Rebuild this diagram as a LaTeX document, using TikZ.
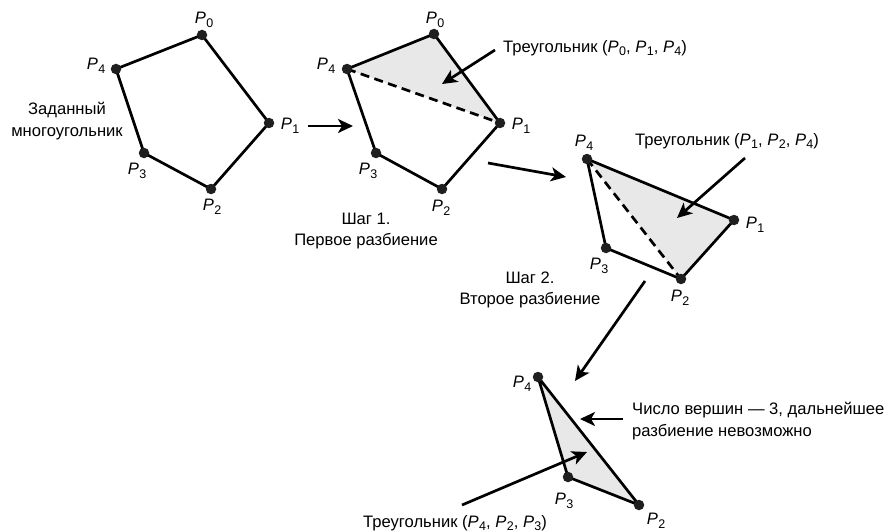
\documentclass[tikz,border=0pt]{standalone}
\usepackage{fontspec}
\setmainfont{Liberation Sans}
\usetikzlibrary{arrows.meta}

% vertex name: italic P with a lowered index
\newcommand\pv[1]{\textit{P}\kern0.4pt\raisebox{-3.5pt}{\fontsize{12.5}{12.5}\selectfont #1}}

\begin{document}
\begin{tikzpicture}[x=1pt,y=-1pt,
  every node/.style={font=\fontsize{16.6}{21.5}\selectfont, inner sep=0pt},
  side/.style={line width=2.7pt, line join=round},
  diag/.style={line width=2.7pt, dash pattern=on 9pt off 5.5pt},
  piece/.style={fill=black!9},
  vertex/.style={circle, fill=black!88, minimum size=10.5pt, inner sep=0pt},
  pointer/.style={line width=2.7pt, -{Stealth[length=15pt,width=14pt,inset=4pt]}},
  caption/.style={align=center},
  note/.style={anchor=west, align=left}]

\useasboundingbox (0,0) rectangle (891,532);

% ---------- vertex positions ----------
% the given polygon
\coordinate (a0) at (202,35);
\coordinate (a1) at (269,123);
\coordinate (a2) at (211,189);
\coordinate (a3) at (144,153);
\coordinate (a4) at (116,69);
% step 1
\coordinate (b0) at (434,34);
\coordinate (b1) at (500,123);
\coordinate (b2) at (442,189);
\coordinate (b3) at (376,153);
\coordinate (b4) at (347,69);
% step 2
\coordinate (c1) at (734,220);
\coordinate (c2) at (681,279);
\coordinate (c3) at (606,248);
\coordinate (c4) at (587,159);
% last triangle
\coordinate (d2) at (639,505);
\coordinate (d3) at (568,477);
\coordinate (d4) at (538,377);

% ---------- cut-off triangles ----------
\fill[piece] (b0) -- (b1) -- (b4) -- cycle;
\fill[piece] (c4) -- (c1) -- (c2) -- cycle;
\fill[piece] (d4) -- (d2) -- (d3) -- cycle;

% ---------- outlines and diagonals ----------
\draw[side] (a0) -- (a1) -- (a2) -- (a3) -- (a4) -- cycle;
\draw[side] (b0) -- (b1) -- (b2) -- (b3) -- (b4) -- cycle;
\draw[diag] (b4) -- (b1);
\draw[side] (c4) -- (c1) -- (c2) -- (c3) -- cycle;
\draw[diag] (c4) -- (c2);
\draw[side] (d4) -- (d2) -- (d3) -- cycle;

% ---------- vertex dots ----------
\foreach \v in {a0,a1,a2,a3,a4,b0,b1,b2,b3,b4,c1,c2,c3,c4,d2,d3,d4}
  \node[vertex] (\v dot) at (\v) {};

% ---------- vertex labels ----------
\node (la0) at (204,20)  {\pv{0}};
\node (la1) at (290,126) {\pv{1}};
\node (la2) at (212,207) {\pv{2}};
\node (la3) at (137,171) {\pv{3}};
\node (la4) at (96,66)   {\pv{4}};

\node (lb0) at (435,20)  {\pv{0}};
\node (lb1) at (521,126) {\pv{1}};
\node (lb2) at (441,208) {\pv{2}};
\node (lb3) at (368,171) {\pv{3}};
\node (lb4) at (326,66)  {\pv{4}};

\node (lc1) at (755,225) {\pv{1}};
\node (lc2) at (680,298) {\pv{2}};
\node (lc3) at (599,266) {\pv{3}};
\node (lc4) at (584,143) {\pv{4}};

\node (ld2) at (656,521) {\pv{2}};
\node (ld3) at (564,501) {\pv{3}};
\node (ld4) at (522,384) {\pv{4}};

% ---------- texts ----------
\node[caption] (given) at (67,121) {Заданный\\многоугольник};
\node[caption] (step1) at (366,231) {Шаг 1.\\Первое разбиение};
\node[caption] (step2) at (530,290) {Шаг 2.\\Второе разбиение};
\node[note] (tri1) at (503,48) {Треугольник (\pv{0}, \pv{1}, \pv{4})};
\node[note] (tri2) at (635,141) {Треугольник (\pv{1}, \pv{2}, \pv{4})};
\node[note] (done) at (632,421) {Число вершин — 3, дальнейшее\\разбиение невозможно};
\node[note] (tri3) at (363,523) {Треугольник (\pv{4}, \pv{2}, \pv{3})};

% ---------- arrows ----------
\coordinate (s1) at (308,126);  \coordinate (e1) at (353,126);
\coordinate (s2) at (495,50);   \coordinate (e2) at (442,84);
\coordinate (s3) at (488,163);  \coordinate (e3) at (566,177);
\coordinate (s4) at (745,158);  \coordinate (e4) at (677,218);
\coordinate (s5) at (645,281);  \coordinate (e5) at (575,381);
\coordinate (s6) at (623,419);  \coordinate (e6) at (580,419);
\coordinate (s7) at (462,505);  \coordinate (e7) at (587,452);

\draw[pointer] (s1) -- (e1);
\draw[pointer] (s2) -- (e2);
\draw[pointer] (s3) -- (e3);
\draw[pointer] (s4) -- (e4);
\draw[pointer] (s5) -- (e5);
\draw[pointer] (s6) -- (e6);
\draw[pointer] (s7) -- (e7);
\end{tikzpicture}
\end{document}
